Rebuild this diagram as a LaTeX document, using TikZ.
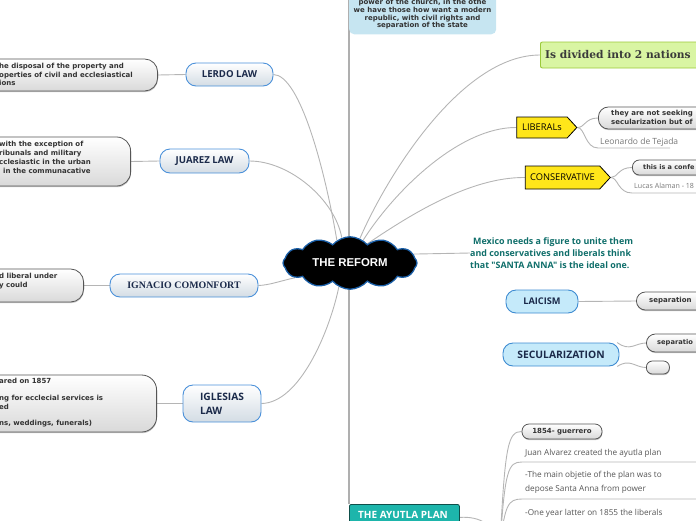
\documentclass[tikz,border=0pt]{standalone}
\usepackage{fontspec}
\setmainfont{Open Sans}
\usetikzlibrary{shapes.symbols,shapes.misc,backgrounds,shadows}
\newfontfamily\dvs{DejaVu Sans}
\newfontfamily\lserif{Liberation Serif}
\newfontfamily\lsans{Liberation Sans}
\newfontfamily\dserif{DejaVu Serif}
\newfontfamily\osans{Open Sans}
\definecolor{navy}{HTML}{1B2A4A}
\definecolor{lblue}{HTML}{4A90D9}
\definecolor{lblbot}{HTML}{D3DCE4}
\definecolor{lineg}{HTML}{B5B5B5}
\definecolor{vlineg}{HTML}{AFAFAF}
\definecolor{gborder}{HTML}{555555}
\definecolor{gbot}{HTML}{D9D9D9}
\definecolor{txtdark}{HTML}{333333}
\definecolor{tealtxt}{HTML}{0F6E6A}
\definecolor{yel}{HTML}{FFE61A}
\definecolor{gfill}{HTML}{D9F5A3}
\definecolor{gdraw}{HTML}{9BC93A}
\definecolor{topfill}{HTML}{C6E5F1}
\definecolor{lbfill}{HTML}{C5EAFA}
\definecolor{lbdraw}{HTML}{3D8BD1}
\definecolor{ayfill}{HTML}{1DB5AB}
\definecolor{aydraw}{HTML}{0E4F4A}
\definecolor{cblue}{HTML}{1A5FA8}
\definecolor{graytxt}{HTML}{777777}
\definecolor{graytxtb}{HTML}{555555}
\definecolor{divtxt}{HTML}{3A3A3A}
\tikzset{
  conn/.style={draw=lineg, line width=0.9pt},
  vline/.style={draw=vlineg, line width=1.8pt},
  lbl/.style={rectangle, rounded corners=10pt, draw=lblue, line width=0.9pt, top color=white, bottom color=lblbot, text=navy, font=\osans\bfseries\fontsize{9.6}{11}\selectfont, inner sep=0pt},
  lbluebox/.style={rectangle, rounded corners=10pt, draw=lbdraw, fill=lbfill, line width=0.9pt, text=navy, font=\osans\bfseries\fontsize{9.2}{11}\selectfont, inner sep=0pt},
  gbox/.style={rectangle, draw=gborder, line width=0.8pt, top color=white, bottom color=gbot, inner sep=0pt, drop shadow={shadow xshift=0.4pt, shadow yshift=-1.2pt, opacity=0.45}},
  btxt/.style={font=\dvs\bfseries\fontsize{7}{8.5}\selectfont, text=txtdark, align=left, inner sep=0pt},
  sig/.style={signal, signal to=east, signal pointer angle=95, fill=yel, draw=black, line width=0.8pt, font=\osans\fontsize{9.3}{11}\selectfont, inner sep=0pt},
  plain/.style={inner sep=0pt, font=\osans\fontsize{8.2}{14}\selectfont, text=graytxtb, align=left},
}
\begin{document}
\begin{tikzpicture}[x=1pt,y=-1pt]
\useasboundingbox (0,0) rectangle (696,520);
\clip (0,0) rectangle (696,520);
% ---------- left side ----------
\node[lbl, minimum width=87pt, minimum height=23pt] (lerdo) at (229.5,74.5) {LERDO LAW};
\node[gbox, rounded corners=13pt, minimum width=190pt, minimum height=32pt, anchor=east] (lerdoB) at (158,75) {};
\node[btxt, anchor=west] (lerdoT) at (-1,74.5) {he disposal of the property and\\operties of civil and ecclesiastical\\ions};

\node[lbl, minimum width=89pt, minimum height=24pt] (juarez) at (204.5,161) {JUAREZ LAW};
\node[gbox, rounded corners=14pt, minimum width=170pt, minimum height=49pt, anchor=east] (juarezB) at (131,161.5) {};
\node[btxt, anchor=west, font=\dvs\bfseries\fontsize{7}{9}\selectfont] (juarezT) at (-1,157.5) {with the exception of\\ribunals and military\\cclesiastic in the urban\\\hspace{4pt}in the communacative};

\node[lbl, font=\lserif\bfseries\fontsize{9.9}{11}\selectfont, minimum width=148pt, minimum height=23pt] (comon) at (184,285.5) {IGNACIO COMONFORT};
\node[gbox, rounded corners=13pt, minimum width=115pt, minimum height=33pt, anchor=east] (comonB) at (84,285.5) {};
\node[btxt, anchor=west, font=\dvs\bfseries\fontsize{7}{9}\selectfont] (comonT) at (-1,281.5) {d liberal under\\y could};

\node[lbl, align=left, font=\osans\bfseries\fontsize{10.2}{14}\selectfont, minimum width=78pt, minimum height=37pt] (igl) at (222,403.5) {IGLESIAS\\LAW};
\node[gbox, rounded corners=15pt, minimum width=190pt, minimum height=57pt, anchor=east] (iglB) at (157,403.5) {};
\node[btxt, anchor=west, font=\dvs\bfseries\fontsize{7}{8.4}\selectfont] (iglT) at (-1,403) {ared on 1857\\\mbox{}\\ng for ecclecial services is\\ed\\\mbox{}\\ns, weddings, funerals)};

% ---------- centre ----------
\node[fill=topfill, rounded corners=5pt, minimum width=147pt, minimum height=50pt, anchor=south west, inner sep=0pt] (topb) at (349,34.5) {};
\node[btxt, align=center, font=\dvs\bfseries\fontsize{7}{7.7}\selectfont] (topT) at (422.5,14.5) {power of the church, in the othe\\we have those how want a modern\\republic, with civil rights and\\separation of the state};

\node[cloud, cloud puffs=12, cloud puff arc=100, aspect=2.6, fill=black, draw=cblue, line width=1.3pt, minimum width=134pt, minimum height=52pt, text=white, font=\lsans\bfseries\fontsize{11.4}{13}\selectfont, inner sep=0pt] (reform) at (350,263) {THE REFORM};

\node[fill=ayfill, draw=aydraw, line width=0.8pt, rounded corners=2pt, minimum width=110pt, minimum height=26pt, anchor=north west, inner sep=0pt] (ayutla) at (349,504) {};
\node[anchor=base, inner sep=0pt, text=white, font=\osans\bfseries\fontsize{10}{12}\selectfont] (ayutlaT) at (403,518.3) {THE AYUTLA PLAN};

% ---------- right side ----------
\node[draw=gdraw, fill=gfill, line width=0.9pt, rounded corners=2pt, minimum width=170pt, minimum height=26pt, anchor=west, inner sep=0pt] (div) at (540,55) {};
\node[anchor=west, inner sep=0pt, font=\dserif\bfseries\fontsize{10.7}{12}\selectfont, text=divtxt] (divT) at (545,55) {Is divided into 2 nations};

\node[sig, minimum width=60pt, minimum height=21pt] (lib) at (542,127.5) {LIBERALs};
\node[gbox, rounded corners=10pt, minimum width=120pt, minimum height=22pt, anchor=west] (libC) at (598,118) {};
\node[btxt, anchor=west, font=\dvs\bfseries\fontsize{7}{9}\selectfont] (libT) at (611,117.5) {they are not seeking\\secularization but of};
\node[anchor=west, inner sep=0pt, font=\osans\fontsize{8.5}{10}\selectfont, text=graytxt] (leo) at (600,142) {Leonardo de Tejada};
\coordinate (leoL) at (598,148);
\coordinate (leoR) at (670,148);

\node[sig, minimum width=85pt, minimum height=23pt] (cons) at (562.5,177.5) {CONSERVATIVE};
\node[gbox, rounded corners=7pt, minimum width=90pt, minimum height=15pt, anchor=west] (consC) at (632,167.5) {};
\node[btxt, anchor=west, font=\dvs\bfseries\fontsize{6.5}{8}\selectfont] (consT) at (643,167.5) {this is a confe};
\node[anchor=west, inner sep=0pt, font=\osans\fontsize{7.1}{10}\selectfont, text=graytxt] (lucas) at (634,186) {Lucas Alaman - 18};
\coordinate (lucL) at (632,193);
\coordinate (lucR) at (700,193);

\node[anchor=west, align=left, inner sep=0pt, font=\osans\bfseries\fontsize{8.9}{12}\selectfont, text=tealtxt] (mex) at (470,253) {\hspace{3pt}Mexico needs a figure to unite them\\and conservatives and liberals think\\that "SANTA ANNA" is the ideal one.};

\node[lbluebox, minimum width=72pt, minimum height=23pt] (laic) at (542,301.5) {LAICISM};
\node[gbox, rounded corners=9pt, minimum width=90pt, minimum height=18pt, anchor=west] (laicC) at (636,301) {};
\node[btxt, anchor=west] (laicT) at (649,301) {separation};

\node[lbluebox, minimum width=116pt, minimum height=23pt, font=\osans\bfseries\fontsize{10.3}{12}\selectfont] (sec) at (561,354.5) {SECULARIZATION};
\node[gbox, rounded corners=9pt, minimum width=80pt, minimum height=18pt, anchor=west] (secC1) at (646,343) {};
\node[btxt, anchor=west, font=\dvs\bfseries\fontsize{6.7}{8}\selectfont] (secT) at (657,343) {separatio};
\node[gbox, rounded corners=6pt, minimum width=23pt, minimum height=13pt, anchor=west] (secC2) at (646,367.5) {};

\node[gbox, btxt, align=center, rounded corners=7pt, minimum width=80pt, minimum height=15pt] (y1854) at (562,431.5) {1854- guerrero};
\node[plain, anchor=west] (juan) at (525,453) {Juan Alvarez created the ayutla plan};
\node[plain, anchor=west] (obj) at (525,482) {-The main objetie of the plan was to\\depose Santa Anna from power};
\node[plain, anchor=west] (one) at (525,513) {-One year latter on 1855 the liberals};
\coordinate (hub) at (500,545);
\coordinate (ul1L) at (522,462);
\coordinate (ul1R) at (700,462);
\coordinate (ul2L) at (522,499);
\coordinate (ul2R) at (700,499);
\coordinate (vtop) at (349,-5);

% ---------- connectors ----------
\begin{pgfonlayer}{background}
\clip (0,0) rectangle (696,520);
\draw[vline] (vtop) -- (ayutla.north west);
\draw[conn] (lerdoB.east) -- (lerdo.west);
\draw[conn] (lerdo.east) .. controls (300,75) and (325,170) .. (reform.120);
\draw[conn] (juarezB.east) -- (juarez.west);
\draw[conn] (juarez.east) .. controls (290,161) and (335,200) .. (reform.108);
\draw[conn] (comonB.east) -- (comon.west);
\draw[conn] (comon.east) .. controls (270,285) and (280,281) .. (reform.195);
\draw[conn] (iglB.east) -- (igl.west);
\draw[conn] (igl.east) .. controls (300,403) and (330,330) .. (reform.245);
\draw[conn] (div.west) .. controls (460,55) and (385,180) .. (reform.68);
\draw[conn] (lib.west) .. controls (460,127) and (395,190) .. (reform.60);
\draw[conn] (cons.west) .. controls (470,177) and (410,215) .. (reform.48);
\draw[conn] (reform.8) -- (mex.west);
\draw[conn] (lib.east) .. controls (585,127.5) and (585,118) .. (libC.west);
\draw[conn] (lib.east) .. controls (585,127.5) and (585,148) .. (leoL) -- (leoR);
\draw[conn] (cons.east) .. controls (618,177.5) and (618,167.5) .. (consC.west);
\draw[conn] (cons.east) .. controls (618,177.5) and (618,193) .. (lucL) -- (lucR);
\draw[conn] (laic.east) -- (laicC.west);
\draw[conn] (sec.12) .. controls (630,352) and (635,343) .. (secC1.west);
\draw[conn] (sec.-12) .. controls (630,358) and (635,367.5) .. (secC2.west);
\draw[conn] (ayutla.east) .. controls (480,516) and (495,525) .. (hub);
\draw[conn] (hub) .. controls (505,445) and (508,431.5) .. (y1854.west);
\draw[conn] (hub) .. controls (505,470) and (508,462) .. (ul1L) -- (ul1R);
\draw[conn] (hub) .. controls (505,505) and (508,499) .. (ul2L) -- (ul2R);
\end{pgfonlayer}
\end{tikzpicture}
\end{document}
